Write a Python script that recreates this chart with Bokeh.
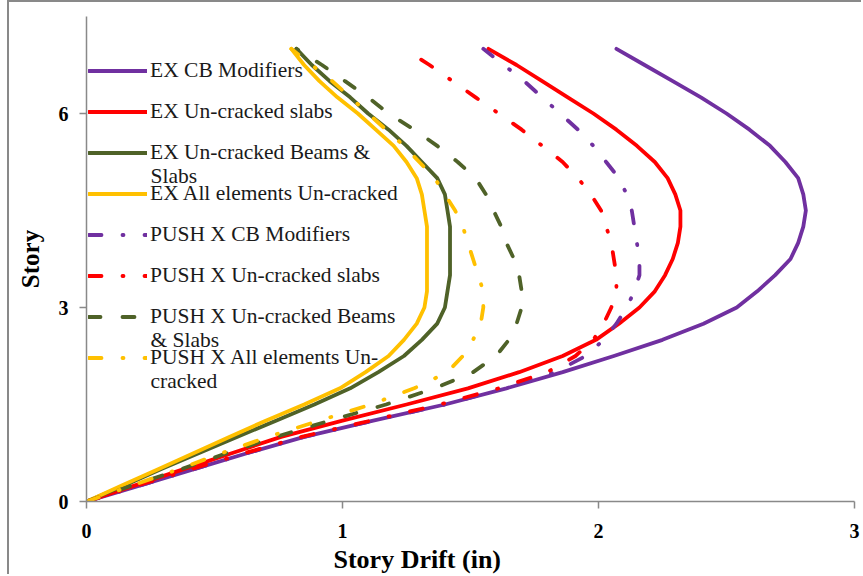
from bokeh.plotting import figure
from bokeh.models import Legend, LegendItem, Label, FixedTicker, Range1d, Title
from bokeh.embed import file_html
from bokeh.resources import INLINE

stories = [0, 0.25, 0.5, 0.75, 1, 1.25, 1.5, 1.75, 2, 2.25, 2.5, 2.75, 3, 3.25, 3.5,
           3.75, 4, 4.25, 4.5, 4.75, 5, 5.25, 5.5, 5.75, 6, 6.25, 6.5, 6.75, 7]

ex_cb_modifiers = [0, 0.21, 0.42, 0.63, 0.85, 1.12, 1.40, 1.64, 1.86, 2.06, 2.25, 2.41, 2.54, 2.62, 2.69,
                   2.75, 2.78, 2.80, 2.81, 2.80, 2.78, 2.73, 2.67, 2.59, 2.50, 2.40, 2.29, 2.18, 2.07]
ex_uncracked_slabs = [0, 0.19, 0.38, 0.57, 0.76, 1.00, 1.25, 1.49, 1.69, 1.86, 1.99, 2.08, 2.16, 2.22, 2.26,
                      2.29, 2.31, 2.32, 2.32, 2.30, 2.27, 2.22, 2.15, 2.07, 1.98, 1.88, 1.78, 1.68, 1.57]
ex_uncracked_beams_slabs = [0, 0.15, 0.29, 0.44, 0.59, 0.74, 0.89, 1.03, 1.14, 1.24, 1.31, 1.37, 1.40, 1.41, 1.42,
                            1.42, 1.42, 1.42, 1.41, 1.40, 1.37, 1.31, 1.25, 1.18, 1.10, 1.03, 0.95, 0.88, 0.82]
ex_all_uncracked = [0, 0.14, 0.28, 0.42, 0.56, 0.70, 0.85, 0.99, 1.09, 1.18, 1.24, 1.29, 1.32, 1.33, 1.33,
                    1.33, 1.33, 1.33, 1.32, 1.31, 1.29, 1.25, 1.20, 1.13, 1.06, 0.98, 0.91, 0.85, 0.80]
push_cb_modifiers = [0, 0.21, 0.42, 0.63, 0.85, 1.12, 1.40, 1.63, 1.83, 1.95, 2.02, 2.07, 2.11, 2.14, 2.16,
                     2.16, 2.15, 2.14, 2.13, 2.11, 2.08, 2.03, 1.98, 1.92, 1.85, 1.78, 1.71, 1.63, 1.55]
push_uncracked_slabs = [0, 0.20, 0.41, 0.62, 0.84, 1.11, 1.38, 1.61, 1.80, 1.91, 1.98, 2.02, 2.05, 2.07, 2.07,
                        2.06, 2.05, 2.03, 2.01, 1.97, 1.92, 1.86, 1.78, 1.70, 1.61, 1.52, 1.43, 1.34, 1.24]
push_uncracked_beams_slabs = [0, 0.18, 0.37, 0.55, 0.74, 0.95, 1.17, 1.36, 1.51, 1.60, 1.65, 1.68, 1.70, 1.70, 1.69,
                              1.67, 1.64, 1.62, 1.59, 1.56, 1.52, 1.45, 1.37, 1.28, 1.18, 1.10, 1.01, 0.92, 0.82]
push_all_uncracked = [0, 0.18, 0.36, 0.53, 0.71, 0.91, 1.11, 1.28, 1.41, 1.47, 1.51, 1.54, 1.55, 1.55, 1.53,
                      1.51, 1.49, 1.47, 1.44, 1.40, 1.36, 1.30, 1.24, 1.17, 1.10, 1.03, 0.96, 0.88, 0.80]

legend_labels = [
    "EX CB Modifiers",
    "EX Un-cracked slabs",
    "EX Un-cracked Beams &",
    "EX All elements Un-cracked",
    "PUSH X CB Modifiers",
    "PUSH X Un-cracked slabs",
    "PUSH X Un-cracked Beams",
    "PUSH X All elements Un-",
]
# second lines of wrapped legend labels: (entry index, text)
legend_second_lines = [(2, "Slabs"), (6, "& Slabs"), (7, "cracked")]

x_ticks = [0, 1, 2, 3]
y_ticks = [0, 3, 6]

PURPLE = "#7030A0"
RED = "#FF0000"
GREEN = "#4F6228"
YELLOW = "#FFC000"
DASHDOT = "13 21 1 21"
DASHED = "12 22"

series = [
    (ex_cb_modifiers, PURPLE, "solid"),
    (ex_uncracked_slabs, RED, "solid"),
    (ex_uncracked_beams_slabs, GREEN, "solid"),
    (ex_all_uncracked, YELLOW, "solid"),
    (push_cb_modifiers, PURPLE, DASHDOT),
    (push_uncracked_slabs, RED, DASHDOT),
    (push_uncracked_beams_slabs, GREEN, DASHED),
    (push_all_uncracked, YELLOW, DASHDOT),
]

FONT = "Liberation Serif"
AXIS_COLOR = "#898989"

p = figure(width=854, height=574, output_backend="svg", toolbar_location=None,
           x_range=Range1d(0, 3), y_range=Range1d(0, 7.5),
           min_border_left=77, min_border_right=9, min_border_top=14, min_border_bottom=75)
p.margin = (0, 0, 0, 7)
p.styles = {"border-left": "2px solid #898989", "border-top": "2px solid #898989"}
p.outline_line_color = None
p.xgrid.visible = False
p.ygrid.visible = False
p.background_fill_color = "white"
p.border_fill_color = "white"

for ax in (p.xaxis[0], p.yaxis[0]):
    ax.axis_line_color = AXIS_COLOR
    ax.axis_line_width = 1.5
    ax.major_tick_line_color = AXIS_COLOR
    ax.major_tick_line_width = 1.5
    ax.major_tick_in = 0
    ax.major_tick_out = 7
    ax.minor_tick_line_color = None
    ax.major_label_text_font = FONT
    ax.major_label_text_font_style = "bold"
    ax.major_label_text_font_size = "20px"
    ax.major_label_text_color = "#000000"
    ax.major_label_standoff = 11
p.xaxis[0].major_label_standoff = 15

p.xaxis[0].ticker = FixedTicker(ticks=x_ticks)
p.yaxis[0].ticker = FixedTicker(ticks=y_ticks)
p.yaxis[0].axis_label = "Story"
p.yaxis[0].axis_label_text_font = FONT
p.yaxis[0].axis_label_text_font_style = "bold"
p.yaxis[0].axis_label_text_font_size = "25px"
p.yaxis[0].axis_label_text_color = "#000000"
p.yaxis[0].axis_label_standoff = 12

p.add_layout(Title(text="Story Drift (in)", align="left", offset=247, standoff=5,
                   text_font=FONT, text_font_style="bold", text_font_size="26px",
                   text_color="#000000"), "below")

renderers = []
for xs, color, dash in series:
    r = p.line(x=xs, y=stories, line_color=color, line_width=3.8, line_dash=dash,
               line_cap="round", line_join="round")
    renderers.append(r)

items = [LegendItem(label=lab, renderers=[r]) for lab, r in zip(legend_labels, renderers)]
legend = Legend(items=items, location=(2, 131), orientation="vertical",
                glyph_width=59, glyph_height=25, label_height=25, spacing=16,
                label_standoff=3, padding=0, margin=0,
                label_text_font=FONT, label_text_font_size="21.5px",
                label_text_color="#1a1a1a", label_text_baseline="middle",
                border_line_color=None, background_fill_alpha=0)
p.add_layout(legend, "center")

row_step = 41
for idx, txt in legend_second_lines:
    y = 485 - 53 - idx * row_step - 24
    p.add_layout(Label(x=64, y=y, x_units="screen", y_units="screen", text=txt,
                       text_font=FONT, text_font_size="21.5px", text_color="#1a1a1a",
                       text_baseline="middle", text_align="left"))

open("out.html", "w").write(file_html(p, INLINE))
